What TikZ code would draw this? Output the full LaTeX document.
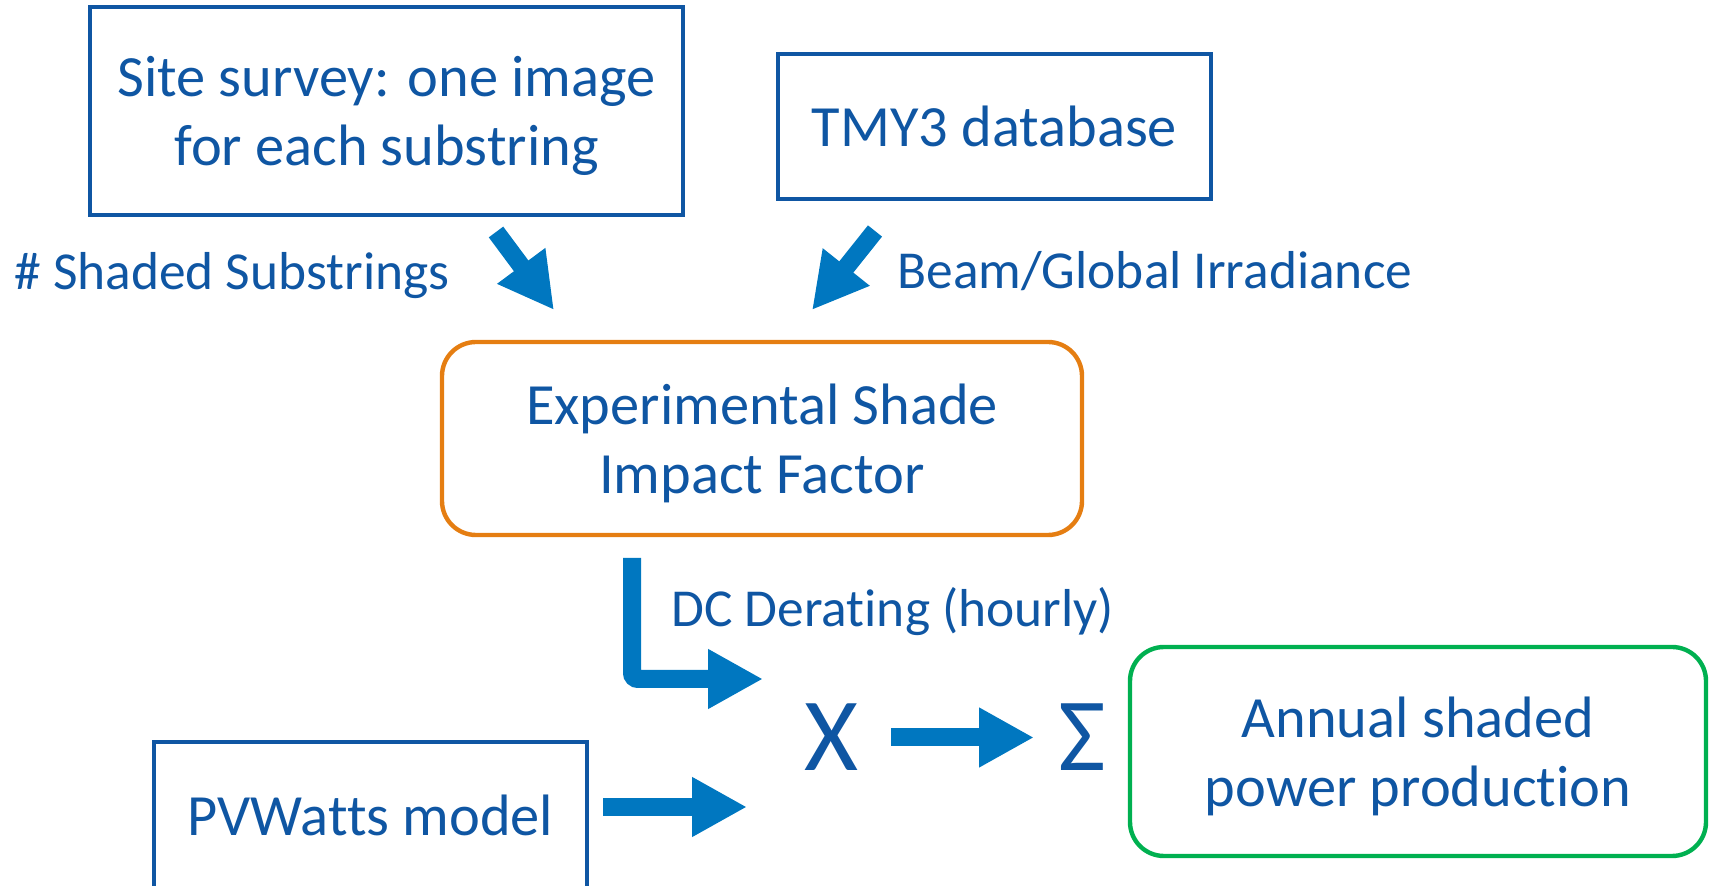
\documentclass[tikz,border=0pt]{standalone}
\usepackage{fontspec}
\setmainfont{Carlito}[Ligatures=NoCommon]
\usetikzlibrary{arrows.meta}
\definecolor{txtblue}{HTML}{0F56A3}
\definecolor{arrblue}{HTML}{0077C0}
\definecolor{boxorange}{HTML}{E57E12}
\definecolor{boxgreen}{HTML}{00B050}
\begin{document}
\begin{tikzpicture}[x=0.5pt,y=-0.5pt,
  boxfont/.style={font=\fontsize{29.2}{34.5}\selectfont},
  sqbox/.style={draw=txtblue, line width=2pt, text=txtblue, align=center, boxfont, inner sep=0pt},
  rbox/.style={line width=2.2pt, text=txtblue, align=center, boxfont, inner sep=0pt, rounded corners=17pt},
  lbl/.style={text=txtblue, font=\fontsize{26.7}{32}\selectfont, inner sep=0pt, anchor=base west},
  opsym/.style={text=txtblue, font=\fontsize{52}{60}\selectfont, inner sep=0pt},
  fatarrow/.style={draw=arrblue, line width=9pt, -{Triangle[length=27.5pt,width=28pt]}}
]
\useasboundingbox (0,0) rectangle (1709,886);
\clip (0,0) rectangle (1709,886);

\node[sqbox, text depth=0pt, minimum width=296.5pt, minimum height=104pt] (site) at (386.5,111) {Site survey: one image\\for each substring};
\node[sqbox, minimum width=216.5pt, minimum height=72.5pt] (tmy) at (994.5,126.5) {TMY3 database};
\node[rbox, text depth=0pt, draw=boxorange, minimum width=320pt, minimum height=96.5pt] (esif) at (762,438.5) {Experimental Shade\\Impact Factor};
\node[rbox, text depth=0pt, draw=boxgreen, minimum width=288pt, minimum height=104.5pt] (annual) at (1418,751.5) {Annual shaded\\power production};
\node[sqbox, minimum width=216.5pt, minimum height=73pt] (pvw) at (370.5,815) {PVWatts model};

\node[lbl] (lshaded) at (14,290) {\# Shaded Substrings};
\node[lbl] (lbeam) at (897,289) {Beam/Global Irradiance};
\node[lbl] (ldc) at (671,627) {DC Derating (hourly)};

\node[opsym] (times) at (831,737) {X};
\node[opsym] (sum) at (1082,737) {Σ};

\coordinate (a1s) at (496,232);
\coordinate (a1e) at (554,310);
\coordinate (a2s) at (875,231);
\coordinate (a2e) at (812,310);
\coordinate (dcs) at (632,558);
\coordinate (dce) at (763,679);
\coordinate (pvs) at (603,807);
\coordinate (pve) at (747,807);
\coordinate (xs) at (891,737.5);
\coordinate (xe) at (1034,737.5);

\draw[fatarrow] (a1s) -- (a1e);
\draw[fatarrow] (a2s) -- (a2e);
\draw[fatarrow, rounded corners=3pt] (dcs) |- (dce);
\draw[fatarrow] (pvs) -- (pve);
\draw[fatarrow] (xs) -- (xe);
\end{tikzpicture}
\end{document}
